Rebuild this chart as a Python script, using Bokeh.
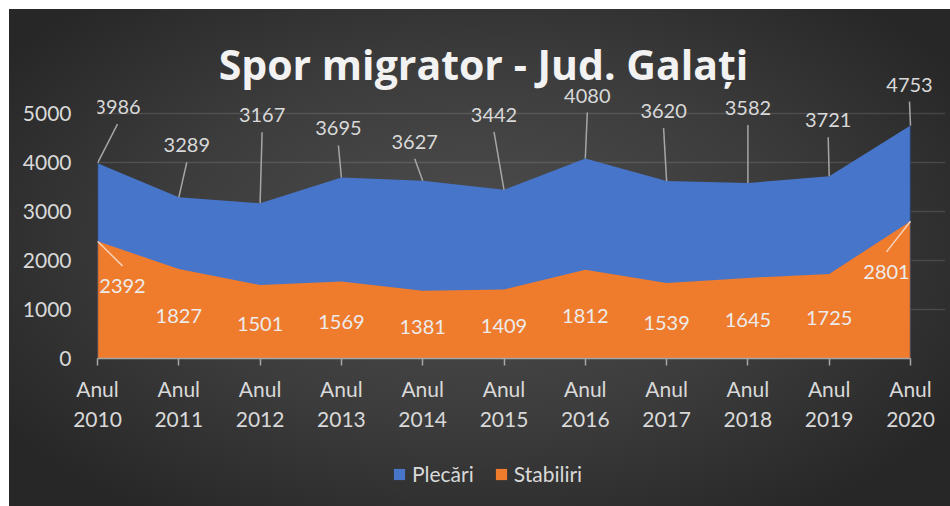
from bokeh.plotting import figure
from bokeh.layouts import column
from bokeh.models import (Range1d, FixedTicker, ColumnDataSource, LabelSet,
                          Legend, LegendItem, Label)
from bokeh.core.properties import value
from bokeh.embed import file_html
from bokeh.resources import INLINE

# ---------------- data ----------------
years = [2010, 2011, 2012, 2013, 2014, 2015, 2016, 2017, 2018, 2019, 2020]
year_labels = ["Anul\n2010", "Anul\n2011", "Anul\n2012", "Anul\n2013", "Anul\n2014",
               "Anul\n2015", "Anul\n2016", "Anul\n2017", "Anul\n2018", "Anul\n2019",
               "Anul\n2020"]
plecari = [3986, 3289, 3167, 3695, 3627, 3442, 4080, 3620, 3582, 3721, 4753]
stabiliri = [2392, 1827, 1501, 1569, 1381, 1409, 1812, 1539, 1645, 1725, 2801]
series_names = ["Plecări", "Stabiliri"]
title_text = "Spor migrator - Jud. Galați"
y_ticks = [0, 1000, 2000, 3000, 4000, 5000]

# ---------------- layout / style ----------------
W, H_MAIN, H_LEG = 950, 448, 58
B_LEFT, B_RIGHT, B_TOP, B_BOTTOM = 97, 5, 18, 90
frame_w = W - B_LEFT - B_RIGHT
frame_h = H_MAIN - B_TOP - B_BOTTOM
PX_PER_UNIT = 245.0 / 5000.0          # vertical pixels per person
PX_PER_YEAR = 81.3                    # horizontal pixels per year
y_end = frame_h / PX_PER_UNIT
x_end = years[0] + frame_w / PX_PER_YEAR

BLUE = "#4775c9"
ORANGE = "#ef7b2d"
TXT = "#d9d9d9"
FONT = "Lato"

# label offsets in pixels (screen, up = positive)
plec_dx = [20, 8, 2, -3, -8, -10, 2, -3, 0, -1, -1]
plec_dy = [56, 52, 88, 49, 39, 75, 63, 70, 75, 56, 41]
stab_dx = [25, 0, 0, 0, 0, 0, 0, 0, 0, 0, -24]
stab_dy = [14, -2, -2, -2, -2, -2, -2, -2, -2, -2, 18]
stab_leader_idx = [0, 10]

p = figure(width=W, height=H_MAIN, output_backend="svg", toolbar_location=None,
           x_range=Range1d(years[0], x_end), y_range=Range1d(0, y_end),
           min_border_left=B_LEFT, min_border_right=B_RIGHT,
           min_border_top=B_TOP, min_border_bottom=B_BOTTOM)
p.border_fill_color = None
p.background_fill_color = None
p.outline_line_color = None

# areas
src = ColumnDataSource(dict(x=years, plec=plecari, stab=stabiliri,
                            stab_mid=[v / 2 for v in stabiliri],
                            txt_p=[str(v) for v in plecari],
                            txt_s=[str(v) for v in stabiliri],
                            pdx=plec_dx, pdy=plec_dy, sdx=stab_dx, sdy=stab_dy))
r_p = p.varea(x="x", y1=0, y2="plec", source=src, fill_color=BLUE)
r_s = p.varea(x="x", y1=0, y2="stab", source=src, fill_color=ORANGE)

# thin shading at the two vertical edges of the areas
p.segment(x0=[years[0], years[-1]], y0=[0, 0], x1=[years[0], years[-1]],
          y1=[plecari[0], plecari[-1]], line_color="#2a3550", line_alpha=0.6, line_width=1.5)

# leader lines for Plecări
lx1 = [x + dx / PX_PER_YEAR for x, dx in zip(years, plec_dx)]
ly1 = [v + (dy - 17) / PX_PER_UNIT for v, dy in zip(plecari, plec_dy)]
p.segment(x0=years, y0=plecari, x1=lx1, y1=ly1, line_color="#a6a6a6", line_width=1.5)

# leader lines for Stabiliri (moved labels)
sx0 = [years[i] for i in stab_leader_idx]
sy0 = [stabiliri[i] for i in stab_leader_idx]
sx1 = [years[i] + stab_dx[i] / PX_PER_YEAR for i in stab_leader_idx]
sy1 = [stabiliri[i] / 2 + (stab_dy[i] + 20) / PX_PER_UNIT for i in stab_leader_idx]
p.segment(x0=sx0, y0=sy0, x1=sx1, y1=sy1, line_color="#f6d3bb", line_width=1.5)

# data labels
p.add_layout(LabelSet(x="x", y="plec", text="txt_p", source=src,
                      x_offset="pdx", y_offset="pdy",
                      text_align="center", text_baseline="middle",
                      text_font=value(FONT), text_font_size="20px", text_color=TXT))
p.add_layout(LabelSet(x="x", y="stab_mid", text="txt_s", source=src,
                      x_offset="sdx", y_offset="sdy",
                      text_align="center", text_baseline="middle",
                      text_font=value(FONT), text_font_size="20px", text_color="#ececec"))

# axes
p.xaxis.ticker = FixedTicker(ticks=years)
p.xaxis.bounds = (years[0], years[-1])
p.xaxis.major_label_overrides = dict(zip(years, year_labels))
p.xaxis.axis_line_color = "#a6a6a6"
p.xaxis.axis_line_width = 1.5
p.xaxis.major_tick_line_color = "#a6a6a6"
p.xaxis.major_tick_line_width = 1.5
p.xaxis.major_tick_out = 7
p.xaxis.major_tick_in = 0
p.xaxis.minor_tick_line_color = None
p.xaxis.major_label_standoff = 10
p.xaxis.major_label_text_color = TXT
p.xaxis.major_label_text_font = FONT
p.xaxis.major_label_text_font_size = "21px"

p.yaxis.ticker = FixedTicker(ticks=y_ticks)
p.yaxis.axis_line_color = None
p.yaxis.major_tick_line_color = None
p.yaxis.minor_tick_line_color = None
p.yaxis.major_label_standoff = 20
p.yaxis.major_label_text_color = TXT
p.yaxis.major_label_text_font = FONT
p.yaxis.major_label_text_font_size = "21px"

p.xgrid.visible = False
p.ygrid.grid_line_color = "#ffffff"
p.ygrid.grid_line_alpha = 0.12
p.ygrid.grid_line_width = 1.5

# title
title_x = years[0] + (483 - 97) / PX_PER_YEAR
title_y = (358 - 63) / PX_PER_UNIT
p.add_layout(Label(x=title_x, y=title_y, text=title_text, text_align="center",
                   text_baseline="alphabetic", text_font="Open Sans",
                   text_font_style="bold", text_font_size="41px",
                   text_color="#f2f2f2"))

# legend strip (separate transparent figure under the chart; its frame is
# aligned with the main chart's frame by the column layout)
pl = figure(width=W, height=H_LEG, output_backend="svg", toolbar_location=None,
            x_range=Range1d(years[0], x_end), y_range=Range1d(-1e6, -1e6 + 1),
            x_axis_location=None, y_axis_location=None,
            min_border_left=0, min_border_right=0, min_border_top=0, min_border_bottom=0)
pl.border_fill_color = None
pl.background_fill_color = None
pl.outline_line_color = None
pl.grid.visible = False
lp = pl.varea(x="x", y1=0, y2="plec", source=src, fill_color=BLUE)
ls = pl.varea(x="x", y1=0, y2="stab", source=src, fill_color=ORANGE)
legend = Legend(items=[LegendItem(label=series_names[0], renderers=[lp]),
                       LegendItem(label=series_names[1], renderers=[ls])],
                location=(295, 20), orientation="horizontal",
                background_fill_alpha=0, border_line_color=None,
                label_text_color=TXT, label_text_font=FONT,
                label_text_font_size="21px", glyph_width=14, glyph_height=14,
                label_standoff=6, spacing=20, padding=0, margin=0)
pl.add_layout(legend)

layout = column(p, pl, spacing=0, styles={
    "background": ("linear-gradient(#ffffff, #ffffff) left top / 100% 9px no-repeat, "
                   "linear-gradient(#ffffff, #ffffff) left top / 9px 100% no-repeat, "
                   "radial-gradient(ellipse 60% 65% at 50% 48%, #4e4e4e 0%, #3c3c3c 55%, #272727 100%)")
})

open("out.html", "w").write(file_html(layout, INLINE))
